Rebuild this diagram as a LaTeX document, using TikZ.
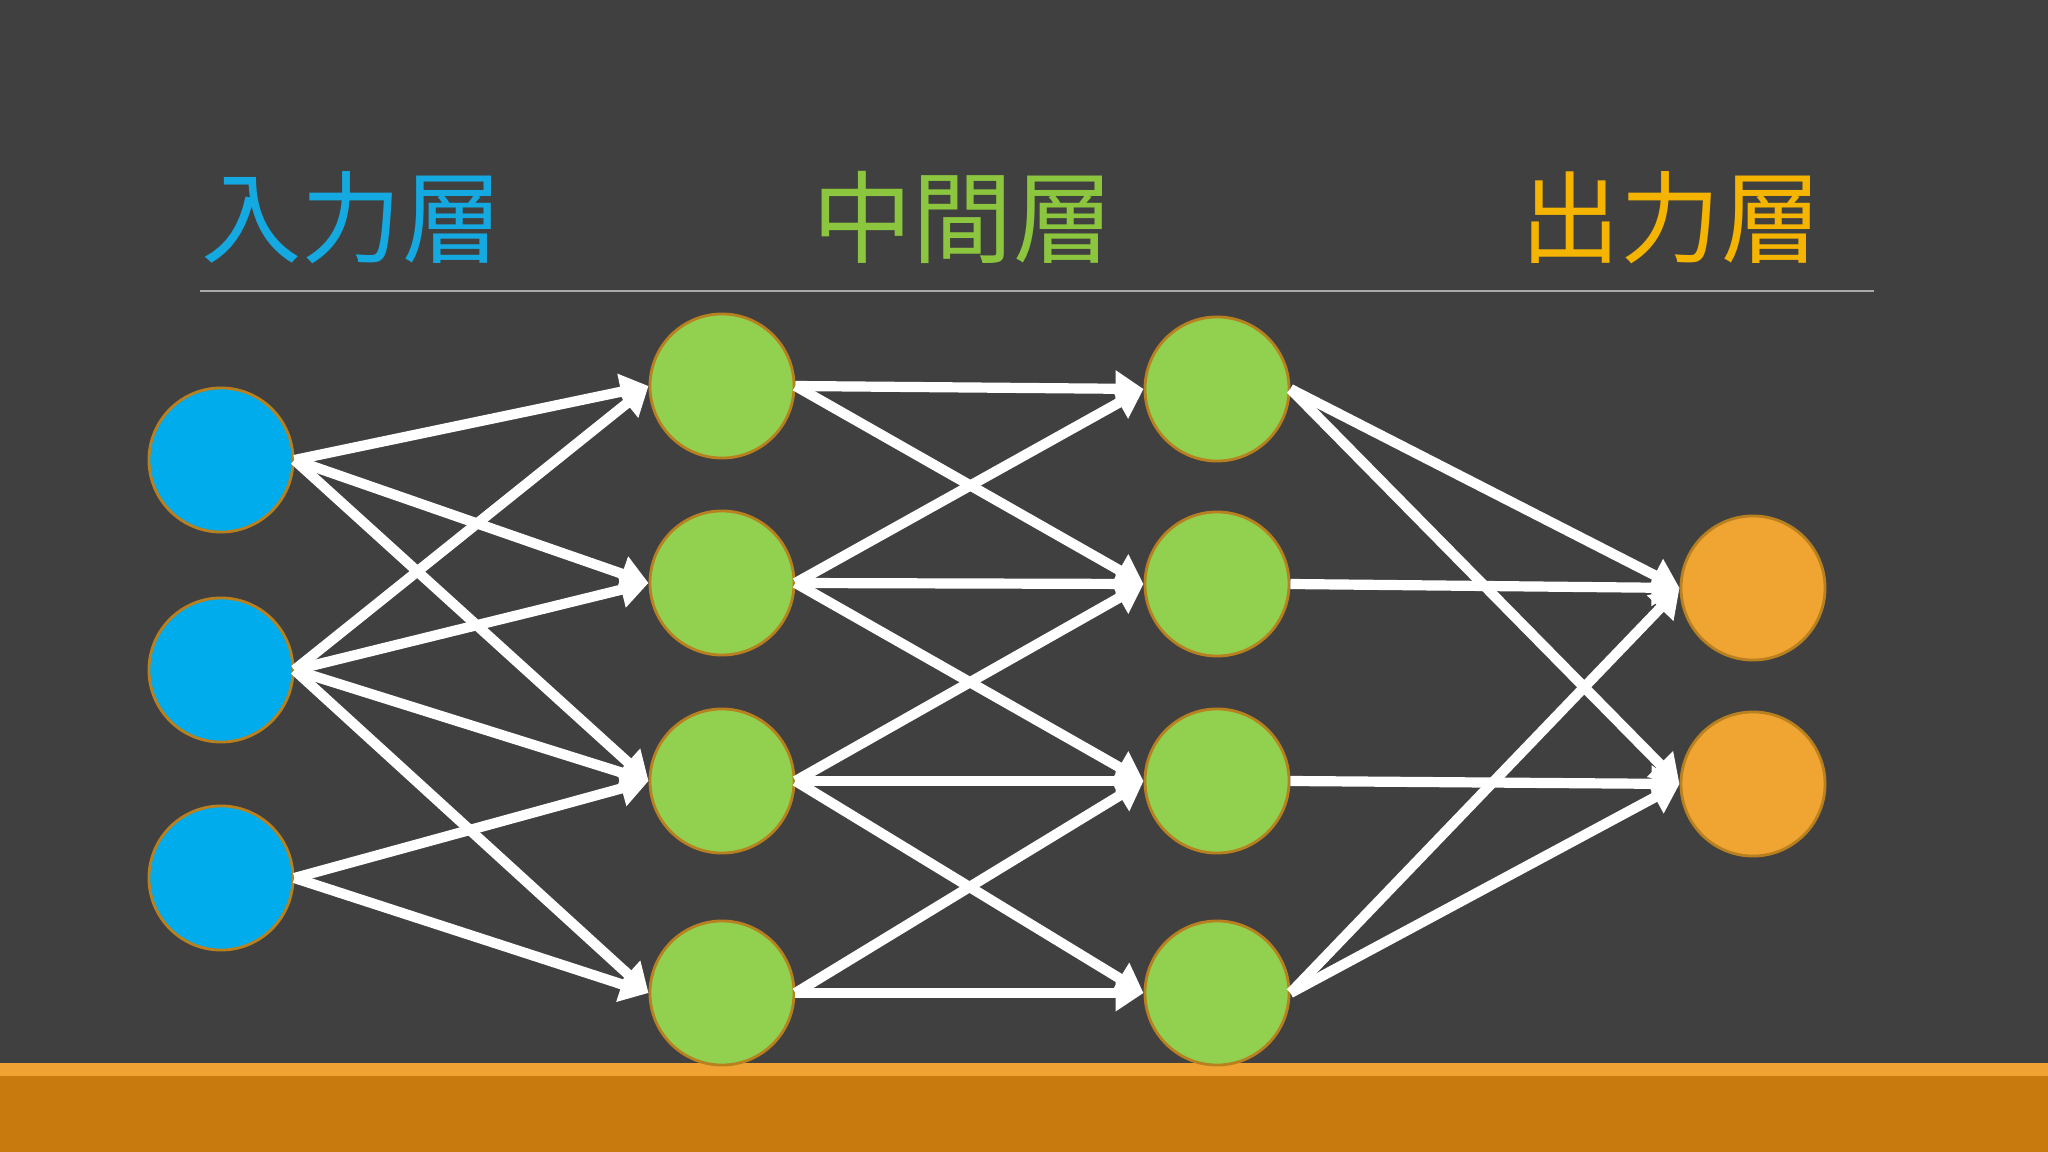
\documentclass[tikz,border=0pt]{standalone}
\usepackage{fontspec}
\newfontfamily\cjk{Noto Sans CJK JP}
\usetikzlibrary{arrows.meta}
\definecolor{bg}{RGB}{64,64,64}
\definecolor{cblue}{RGB}{0,172,236}
\definecolor{cgreen}{RGB}{146,208,80}
\definecolor{corange}{RGB}{240,165,50}
\definecolor{rim}{RGB}{184,128,30}
\definecolor{tblue}{RGB}{20,170,225}
\definecolor{tgreen}{RGB}{140,198,63}
\definecolor{tyellow}{RGB}{245,180,0}
\definecolor{barlight}{RGB}{240,162,50}
\definecolor{bardark}{RGB}{200,122,14}
\tikzset{
  neuron/.style={circle,draw=rim,line width=0.8pt,minimum size=1.44cm,inner sep=0pt},
  conn/.style={white,line width=2.9pt,-{Triangle[length=0.28cm,width=0.35cm]}},
  title/.style={anchor=base,font=\cjk\fontsize{28.5}{30}\selectfont,inner sep=0pt},
}
\begin{document}
\begin{tikzpicture}[x=0.01cm,y=-0.01cm]
\useasboundingbox (0,0) rectangle (2048,1152);
\fill[bg] (0,0) rectangle (2048,1152);
\fill[barlight] (0,1063) rectangle (2048,1076);
\fill[bardark] (0,1076) rectangle (2048,1152);
% titles
\node[title,text=tblue] (t1) at (352,256) {入力層};
\node[title,text=tgreen] (t2) at (963,256) {中間層};
\node[title,text=tyellow] (t3) at (1671,256) {出力層};
\coordinate (la) at (200,291);
\coordinate (lb) at (1874,291);
\draw[color={rgb,255:red,170;green,170;blue,170},line width=0.6pt] (la) -- (lb);
% neurons
\node[neuron,fill=cblue] (i1) at (221,460) {};
\node[neuron,fill=cblue] (i2) at (221,670) {};
\node[neuron,fill=cblue] (i3) at (221,878) {};
\node[neuron,fill=cgreen] (m1) at (722,386) {};
\node[neuron,fill=cgreen] (m2) at (722,583) {};
\node[neuron,fill=cgreen] (m3) at (722,781) {};
\node[neuron,fill=cgreen] (m4) at (722,993) {};
\node[neuron,fill=cgreen] (n1) at (1217,389) {};
\node[neuron,fill=cgreen] (n2) at (1217,584) {};
\node[neuron,fill=cgreen] (n3) at (1217,781) {};
\node[neuron,fill=cgreen] (n4) at (1217,993) {};
\node[neuron,fill=corange] (o1) at (1753,588) {};
\node[neuron,fill=corange] (o2) at (1753,784) {};
% input -> hidden 1
\foreach \a/\b in {i1/m1,i1/m2,i1/m3,i2/m1,i2/m2,i2/m3,i2/m4,i3/m3,i3/m4}
  \draw[conn] (\a.east) -- (\b.west);
% hidden 1 -> hidden 2
\foreach \a/\b in {m1/n1,m1/n2,m2/n1,m2/n2,m2/n3,m3/n2,m3/n3,m3/n4,m4/n3,m4/n4}
  \draw[conn] (\a.east) -- (\b.west);
% hidden 2 -> output
\foreach \a/\b in {n1/o1,n1/o2,n2/o1,n3/o2,n4/o1,n4/o2}
  \draw[conn] (\a.east) -- (\b.west);
\end{tikzpicture}
\end{document}
